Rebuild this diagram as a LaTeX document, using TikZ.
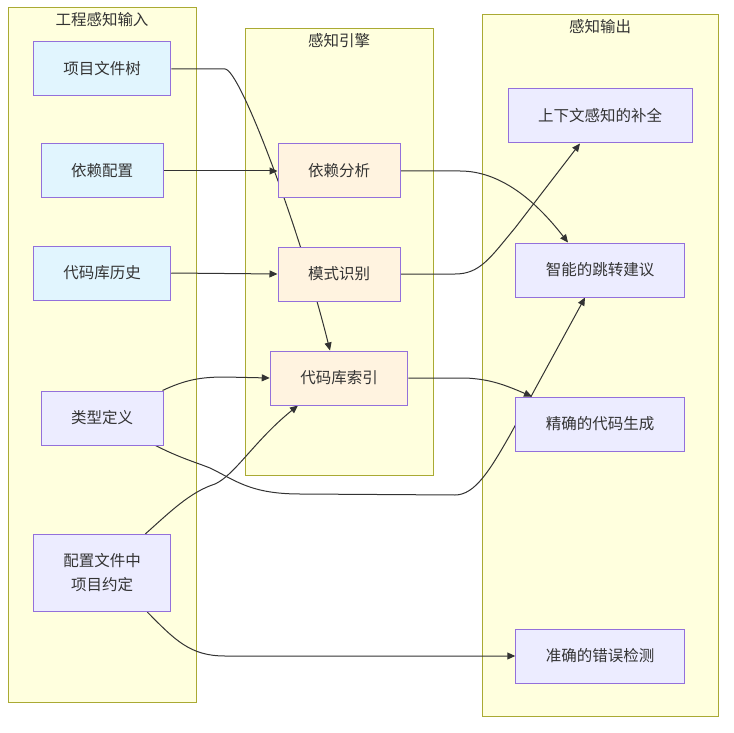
\documentclass[tikz,border=0pt]{standalone}
\usepackage{fontspec}
\setmainfont{Noto Sans CJK SC}
\usepackage{xcolor}
\usepackage{tikz}
\usetikzlibrary{arrows.meta}
\definecolor{GroupFill}{RGB}{255,255,222}
\definecolor{GroupLine}{RGB}{170,170,51}
\definecolor{InputBlue}{RGB}{225,245,254}
\definecolor{EngineOrange}{RGB}{255,243,224}
\definecolor{OutLavender}{RGB}{236,236,255}
\definecolor{BoxLine}{RGB}{147,112,219}
\definecolor{EdgeDark}{RGB}{51,51,51}
\pgfdeclarelayer{under}
\pgfsetlayers{under,main}
\tikzset{
  box/.style={draw=BoxLine,line width=1pt,fill=OutLavender,text=EdgeDark,
    inner xsep=30pt,minimum height=54pt,align=center,
    font=\fontsize{15.5}{24}\selectfont},
  inbox/.style={box,fill=InputBlue},
  enginebox/.style={box,fill=EngineOrange},
  flow/.style={EdgeDark,line width=1pt,-{Triangle[length=8pt,width=7pt]}},
  grouptitle/.style={text=EdgeDark,font=\fontsize{15.5}{20}\selectfont}
}

\begin{document}
\begin{tikzpicture}[x=1pt,y=-1pt]
  \useasboundingbox (0,0) rectangle (734,733);

  % Inputs
  \node[inbox] (tree) at (102,69) {项目文件树};
  \node[inbox] (depcfg) at (102,171) {依赖配置};
  \node[inbox] (history) at (102,273) {代码库历史};
  \node[box] (types) at (102,418) {类型定义};
  \node[box,minimum height=77pt] (conv) at (102,573) {配置文件中\\项目约定};

  % Engine
  \node[enginebox] (depana) at (339,171) {依赖分析};
  \node[enginebox] (pattern) at (339,274) {模式识别};
  \node[enginebox] (index) at (339,378) {代码库索引};

  % Outputs
  \node[box] (compl) at (600,116) {上下文感知的补全};
  \node[box] (jump) at (600,270) {智能的跳转建议};
  \node[box] (gen) at (600,424) {精确的代码生成};
  \node[box] (check) at (600,656) {准确的错误检测};

  \begin{pgfonlayer}{under}
    % Groups
    \filldraw[fill=GroupFill,draw=GroupLine,line width=1pt] (8,8) rectangle (196,702);
    \node[grouptitle] (ttlin) at (102,20) {工程感知输入};
    \filldraw[fill=GroupFill,draw=GroupLine,line width=1pt] (245,29) rectangle (433,475);
    \node[grouptitle] (ttleng) at (339,41) {感知引擎};
    \filldraw[fill=GroupFill,draw=GroupLine,line width=1pt] (482,15) rectangle (718,716);
    \node[grouptitle] (ttlout) at (600,27) {感知输出};

    % Edges
    \draw[flow] (tree.east) -- (225,69) .. controls (240,69) and (300,230) .. ([xshift=-9pt]index.north);
    \draw[flow] (depcfg.east) -- (depana.west);
    \draw[flow] (history.east) -- (pattern.west);
    \draw[flow] ([xshift=-1pt]types.north east) .. controls (185,380) and (200,377) .. (225,377) -- (index.west);
    \draw[flow] ([xshift=-8pt]types.south east) .. controls (180,458) and (195,462) .. (210,468)
      .. controls (235,480) and (250,494) .. (300,494) -- (455,495)
      .. controls (475,495) and (490,470) .. (510,435) -- ([xshift=-15pt]jump.south);
    \draw[flow] ([xshift=-26pt]conv.north east) .. controls (170,512) and (190,492) .. (215,484)
      .. controls (235,475) and (255,440) .. ([xshift=-41pt]index.south);
    \draw[flow] ([xshift=-24pt]conv.south east) .. controls (175,640) and (190,656) .. (225,656) -- (check.west);
    \draw[flow] (depana.east) -- (460,171) .. controls (500,171) and (535,200) .. ([xshift=-32pt]jump.north);
    \draw[flow] (pattern.east) -- (455,274) .. controls (480,274) and (490,258) .. (515,228) -- ([xshift=-20pt]compl.south);
    \draw[flow] (index.east) -- (465,378) .. controls (490,379) and (505,385) .. ([xshift=-68pt]gen.north);
  \end{pgfonlayer}
\end{tikzpicture}
\end{document}
